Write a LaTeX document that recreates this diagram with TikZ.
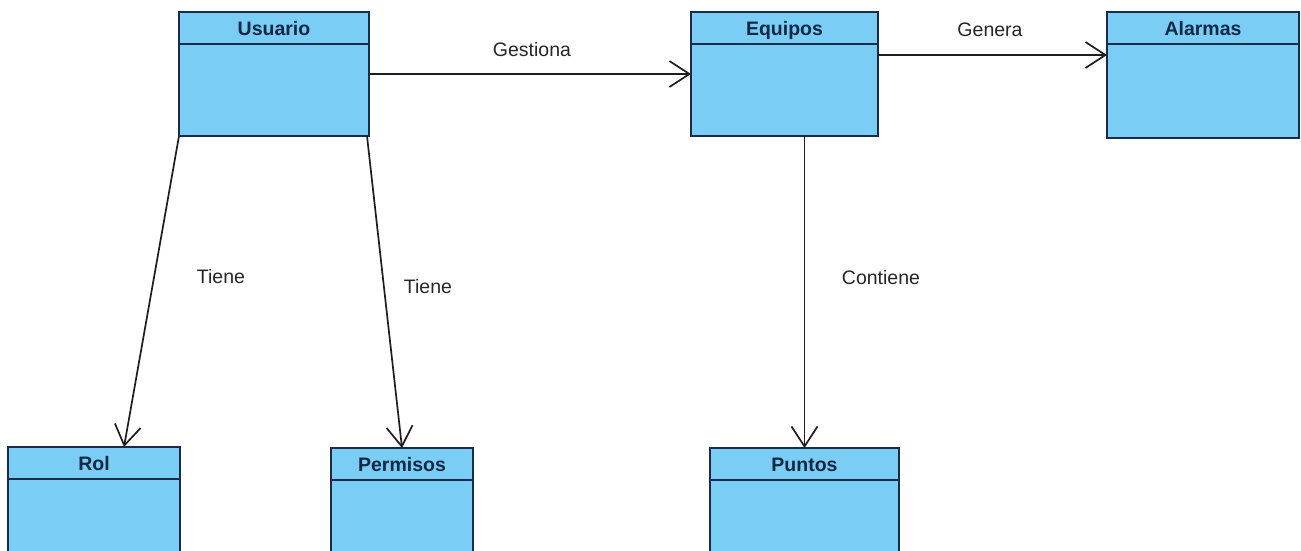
\documentclass[tikz,border=0pt]{standalone}
\usepackage{fontspec}
\setmainfont{Liberation Sans}
\usetikzlibrary{arrows.meta,calc}

\definecolor{classfill}{RGB}{122,205,244}
\definecolor{classline}{RGB}{25,45,75}
\definecolor{classtext}{RGB}{15,40,70}
\definecolor{assocline}{RGB}{30,30,30}

\tikzset{
  classbox/.style={draw=classline, fill=classfill, line width=2pt,
    anchor=north west, inner sep=0pt, outer sep=0pt},
  classsep/.style={draw=classline, line width=2pt},
  classtitle/.style={font=\fontsize{19.5}{22}\selectfont\bfseries, text=classtext, anchor=base},
  assoc/.style={draw=assocline, line width=1.7pt,
    -{Straight Barb[length=20pt,width=26pt,line width=1.7pt]}},
  assoclabel/.style={font=\fontsize{19.5}{22}\selectfont, text=black!85}
}

% UML class: name, title, x, y (top left), width, height
\newcommand\umlclass[6]{%
  \node[classbox, minimum width=#5pt, minimum height=#6pt] (#1) at (#3,#4) {};
  \draw[classsep] ([yshift=-32pt]#1.north west) -- ([yshift=-32pt]#1.north east);
  \node[classtitle] (#1-title) at ([yshift=-23pt]#1.north) {#2};
}

\begin{document}
\begin{tikzpicture}[x=1pt,y=-1pt]
  \useasboundingbox (0,0) rectangle (1301,550);
  \clip (0,0) rectangle (1301,550);
  \fill[white] (0,0) rectangle (1301,550);

  % classes
  \umlclass{usuario}{Usuario}{179}{12}{190}{124}
  \umlclass{equipos}{Equipos}{691}{12}{187}{124}
  \umlclass{alarmas}{Alarmas}{1107}{12}{192}{126}
  \umlclass{rol}{Rol}{8}{447}{172}{120}
  \umlclass{permisos}{Permisos}{331}{448}{142}{120}
  \umlclass{puntos}{Puntos}{710}{448}{189}{120}

  % associations
  \draw[assoc] (usuario.east) -- (equipos.west);
  \node[assoclabel] (lgestiona) at (532,50) {Gestiona};

  \draw[assoc] ([yshift=-43pt]equipos.north east) -- ([yshift=-43pt]alarmas.north west);
  \node[assoclabel] (lgenera) at (990,30) {Genera};

  \draw[assoc] (usuario.south west) -- ([xshift=116pt]rol.north west);
  \node[assoclabel] (ltiene1) at (221,277) {Tiene};

  \draw[assoc] ([xshift=-2pt]usuario.south east) -- (permisos.north);
  \node[assoclabel] (ltiene2) at (428,287) {Tiene};

  \draw[assoc] (equipos.south -| puntos.north) -- (puntos.north);
  \node[assoclabel] (lcontiene) at (881,278) {Contiene};
\end{tikzpicture}
\end{document}
